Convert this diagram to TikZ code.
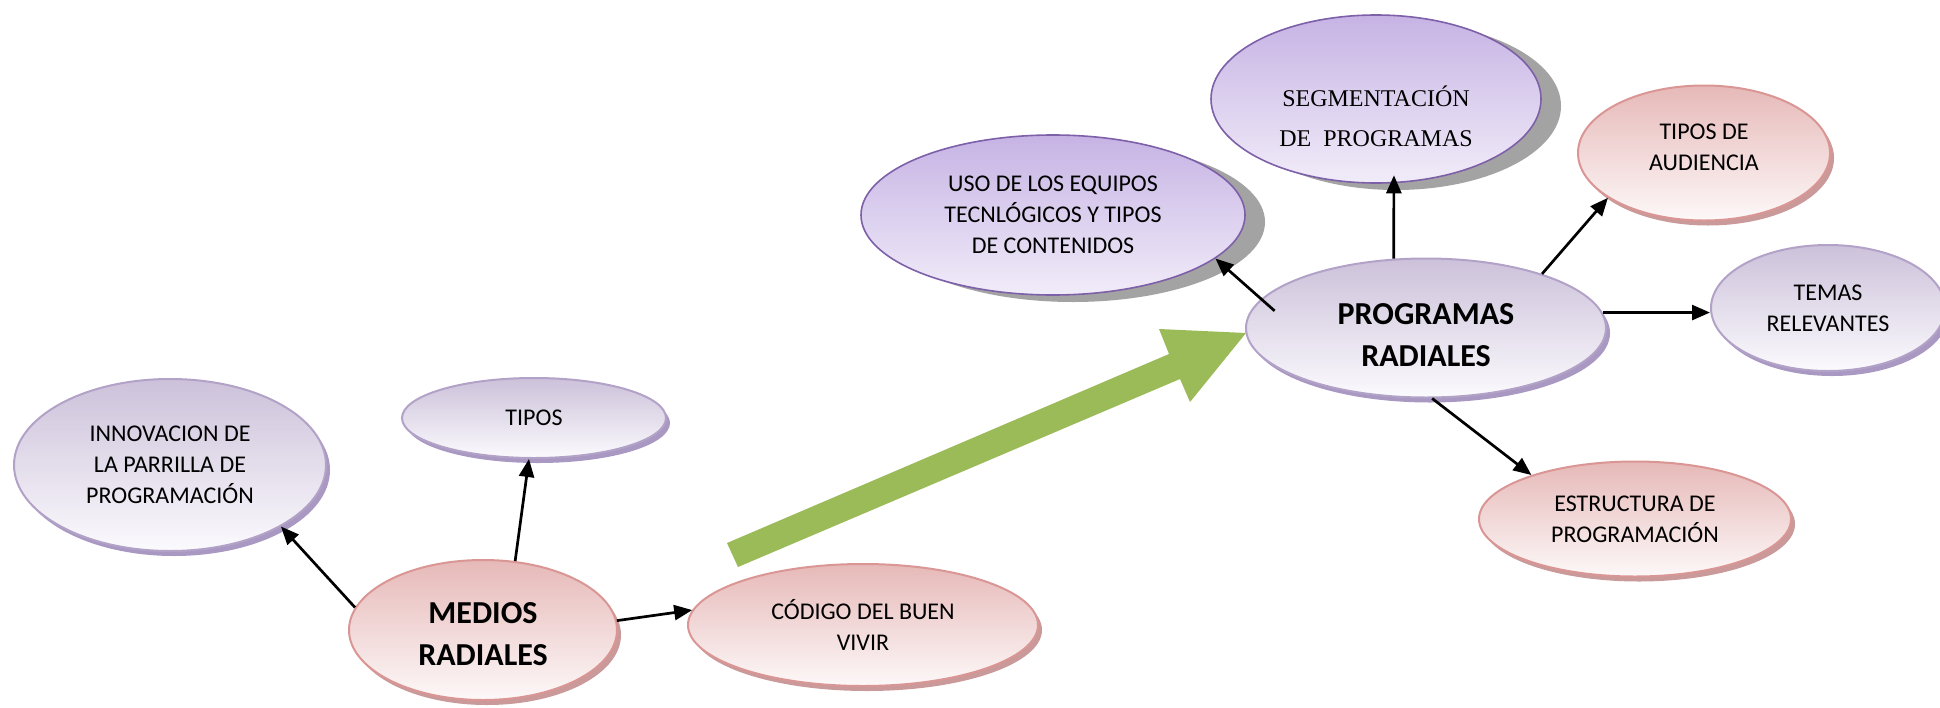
\documentclass[tikz,border=0pt]{standalone}
\usepackage{fontspec}
\setmainfont{Carlito}
\newfontfamily\serifx{Liberation Serif}
\usetikzlibrary{shapes.geometric,shadows,arrows.meta,calc}
\definecolor{purpTop}{HTML}{CCC1DA}
\definecolor{purpBot}{HTML}{FBFAFD}
\definecolor{purpLine}{HTML}{B3A2C7}
\definecolor{purpShadow}{HTML}{A898C2}
\definecolor{lavTop}{HTML}{C6B3E4}
\definecolor{lavBot}{HTML}{F1ECF9}
\definecolor{lavLine}{HTML}{7D60A8}
\definecolor{grayShadow}{HTML}{A3A3A3}
\definecolor{pinkTop}{HTML}{E6B9B8}
\definecolor{pinkBot}{HTML}{FDF8F8}
\definecolor{pinkLine}{HTML}{D99694}
\definecolor{pinkShadow}{HTML}{C99A99}
\definecolor{greenArrow}{HTML}{9BBB59}
\tikzset{
  ell/.style={ellipse, inner sep=0pt, align=center, line width=2pt,
    font=\fontsize{24}{31}\selectfont},
  purpnode/.style={ell, draw=purpLine, top color=purpTop, bottom color=purpBot,
    drop shadow={shadow xshift=4pt, shadow yshift=-5pt, fill=purpShadow, opacity=1}},
  pinknode/.style={ell, draw=pinkLine, top color=pinkTop, bottom color=pinkBot,
    drop shadow={shadow xshift=4pt, shadow yshift=-5pt, fill=pinkShadow, opacity=1}},
  lavnode/.style={ell, draw=lavLine, line width=1.6pt, top color=lavTop, bottom color=lavBot,
    drop shadow={shadow xshift=20pt, shadow yshift=-7pt, fill=grayShadow, opacity=1}},
  bigtext/.style={font=\bfseries\fontsize{32}{42}\selectfont},
  regtext/.style={font=\fontsize{24}{31}\selectfont},
  arr/.style={-{Triangle[length=18pt,width=15pt]}, line width=2.7pt, black}
}
\begin{document}
\begin{tikzpicture}[x=1pt,y=-1pt]
\useasboundingbox (0,0) rectangle (1940,707);

% green block arrow
\fill[greenArrow] (727,543) -- (1169,354) -- (1159,329) -- (1246,333)
  -- (1190,402) -- (1180,379) -- (738,567) -- cycle;

% nodes
\node[purpnode, minimum width=312pt, minimum height=172pt] (innov) at (170,465)
  {INNOVACION DE\\LA PARRILLA DE\\PROGRAMACIÓN};
\node[purpnode, minimum width=264pt, minimum height=80pt] (tipos) at (534,418) {TIPOS};
\node[pinknode, minimum width=268pt, minimum height=140pt,
  label={[bigtext, align=center, yshift=-4pt]center:{MEDIOS\\RADIALES}}] (med) at (483,630) {};
\node[pinknode, minimum width=350pt, minimum height=122pt] (cod) at (863,625)
  {CÓDIGO DEL BUEN\\VIVIR};
\node[lavnode, minimum width=384pt, minimum height=160pt] (uso) at (1053,215)
  {USO DE LOS EQUIPOS\\TECNLÓGICOS Y TIPOS\\DE CONTENIDOS};
\node[lavnode, minimum width=330pt, minimum height=168pt,
  label={[font=\serifx\fontsize{24}{40}\selectfont, align=center, yshift=-17pt]center:{SEGMENTACIÓN\\DE\ \ PROGRAMAS}}]
  (segm) at (1376,99) {};
\node[purpnode, minimum width=360pt, minimum height=139pt,
  label={[bigtext, align=center, yshift=-7pt]center:{PROGRAMAS\\RADIALES}}] (prog) at (1426,328) {};
\node[pinknode, minimum width=252pt, minimum height=135pt,
  label={[regtext, align=center, yshift=6pt]center:{TIPOS DE\\AUDIENCIA}}] (aud) at (1704,153) {};
\node[purpnode, minimum width=234pt, minimum height=126pt] (temas) at (1828,308)
  {TEMAS\\RELEVANTES};
\node[pinknode, minimum width=312pt, minimum height=115pt] (estr) at (1635,519)
  {ESTRUCTURA DE\\PROGRAMACIÓN};

% connectors
\draw[arr] (med.170) -- (innov.331);
\draw[arr] (med.65) -- (tipos.263);
\draw[arr] (med.4) -- (cod.175);
\draw[arr, shorten <=-18pt] (prog.170) -- (uso.345.5);
\draw[arr, shorten >=-8pt] (prog.115.6) -- (segm.282.7);
\draw[arr] (prog.25.6) -- (aud.205);
\draw[arr] (prog.5) -- (prog.5 -| temas.west);
\draw[arr] (prog.275) -- (estr.157);
\end{tikzpicture}
\end{document}
